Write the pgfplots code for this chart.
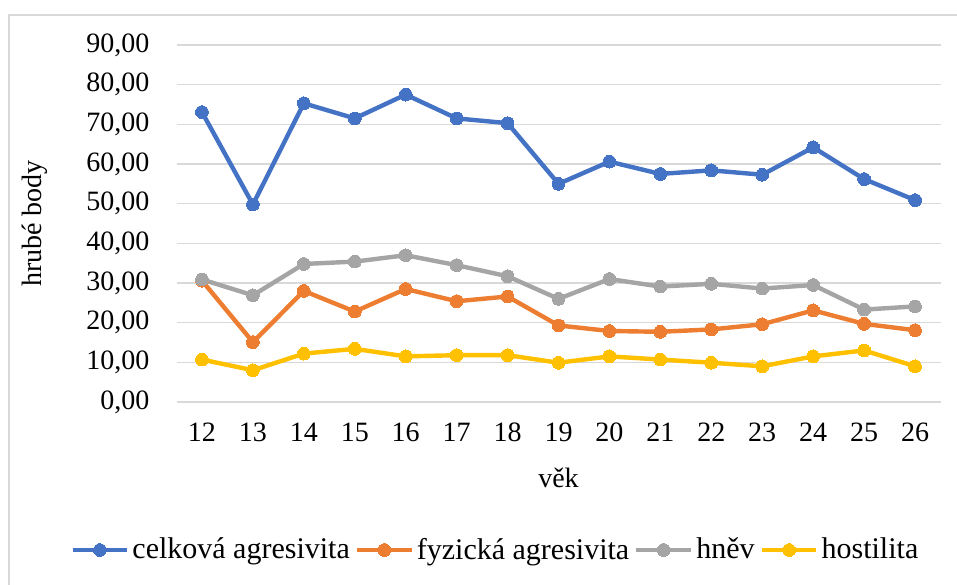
\documentclass[border=0pt]{standalone}
\usepackage{pgfplots}
\pgfplotsset{compat=1.18}
\usepackage{pgfplotstable}
\usepackage{fontspec}
\setmainfont{Liberation Serif}
\definecolor{cblue}{HTML}{4472C4}
\definecolor{corange}{HTML}{ED7D31}
\definecolor{cgray}{HTML}{A5A5A5}
\definecolor{cyellow}{HTML}{FFC000}
\definecolor{cgrid}{HTML}{D9D9D9}
\pgfplotstableread{
x celk fyz hnev host
12 73.1 30.6 30.9 10.7
13 49.8 15.1 26.9 8.0
14 75.3 28.0 34.8 12.2
15 71.5 22.8 35.4 13.4
16 77.5 28.5 37.0 11.5
17 71.5 25.4 34.5 11.8
18 70.3 26.6 31.7 11.8
19 55.0 19.3 26.0 9.9
20 60.6 17.9 31.0 11.5
21 57.5 17.7 29.1 10.7
22 58.4 18.3 29.8 9.9
23 57.3 19.6 28.6 9.0
24 64.2 23.1 29.5 11.5
25 56.2 19.7 23.3 13.0
26 50.9 18.1 24.1 9.0
}\data
\begin{document}
\begin{tikzpicture}
\useasboundingbox (0,0) rectangle (478.5pt,292pt);
\fill[white] (0,0) rectangle (478.5pt,292pt);
\draw[cgrid, line width=0.8pt] (4.5pt,-5pt) -- (4.5pt,284.5pt) -- (490pt,284.5pt);
\begin{axis}[
  at={(88.25pt,91pt)}, anchor=south west,
  scale only axis, width=382pt, height=178.5pt,
  xmin=11.5, xmax=26.5, ymin=0, ymax=90,
  xtick={12,...,26}, ytick={0,10,...,90},
  axis line style={draw=none},
  major tick length=0pt,
  ymajorgrids, grid style={cgrid, line width=0.8pt},
  /pgf/number format/assume math mode=true,
  yticklabel={\pgfmathprintnumber[fixed, fixed zerofill, precision=2, use comma]{\tick}},
  xticklabel={\pgfmathprintnumber{\tick}},
  tick label style={font=\fontsize{14}{16}\selectfont},
  yticklabel style={anchor=east, xshift=-10pt},
  xticklabel style={anchor=north, yshift=-7pt},
  xlabel={věk}, ylabel={hrubé body},
  label style={font=\fontsize{14}{16}\selectfont},
  xlabel style={at={(axis description cs:0.5,0)}, anchor=center, yshift=-38pt},
  ylabel style={at={(axis description cs:0,0.5)}, anchor=center, yshift=70.75pt},
  legend columns=4,
  legend style={at={(axis description cs:0.418,-0.4146)}, anchor=center, draw=none, fill=none,
    font=\fontsize{15}{17}\selectfont, inner sep=0pt,
    nodes={inner sep=1.5pt},
    /tikz/every even column/.append style={column sep=1pt}},
  legend image code/.code={\draw[#1, mark repeat=2, mark phase=2] plot coordinates {(0cm,0cm) (0.48cm,0cm) (0.96cm,0cm)};},
  every axis plot/.append style={line width=2.2pt, mark=*, mark size=3.2pt},
]
\addplot[cblue, mark options={fill=cblue, draw=cblue, line width=0pt}] table[x=x,y=celk]{\data};
\addlegendentry{celková agresivita}
\addplot[corange, mark options={fill=corange, draw=corange, line width=0pt}] table[x=x,y=fyz]{\data};
\addlegendentry{fyzická agresivita}
\addplot[cgray, mark options={fill=cgray, draw=cgray, line width=0pt}] table[x=x,y=hnev]{\data};
\addlegendentry{hněv}
\addplot[cyellow, mark options={fill=cyellow, draw=cyellow, line width=0pt}] table[x=x,y=host]{\data};
\addlegendentry{hostilita}
\end{axis}
\end{tikzpicture}
\end{document}
